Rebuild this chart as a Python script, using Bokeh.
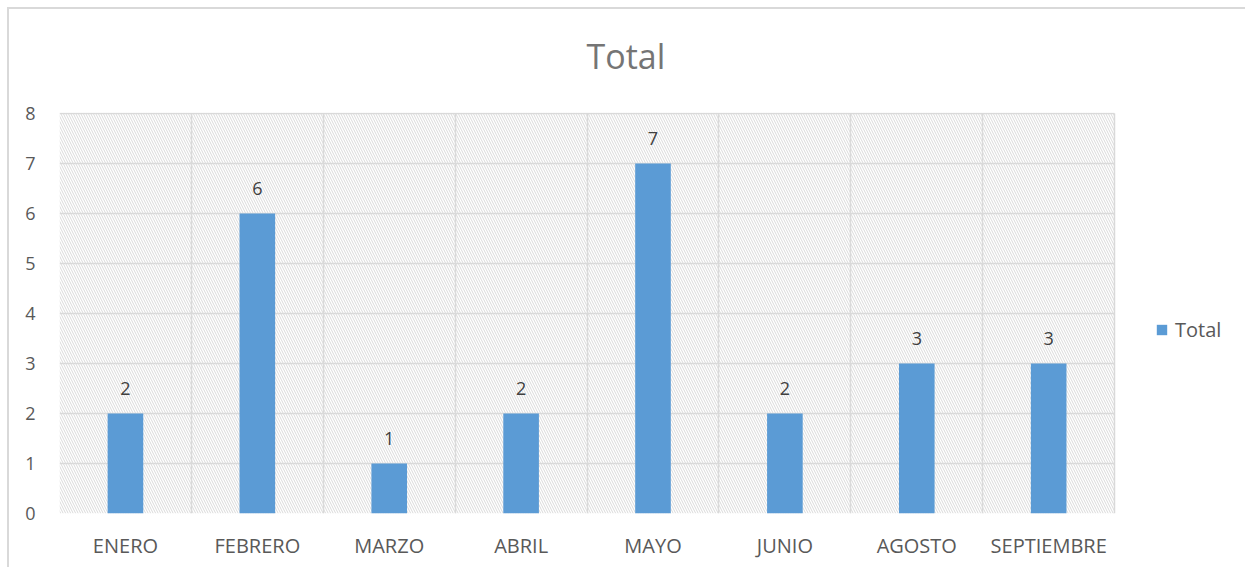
import numpy as np
from bokeh.plotting import figure
from bokeh.models import (Range1d, FixedTicker, ColumnDataSource, LabelSet, Legend,
                          LegendItem, Title)
from bokeh.core.properties import value
from bokeh.embed import file_html
from bokeh.resources import INLINE

months = ["ENERO", "FEBRERO", "MARZO", "ABRIL", "MAYO", "JUNIO", "AGOSTO", "SEPTIEMBRE"]
totals = [2, 6, 1, 2, 7, 2, 3, 3]
y_ticks = [0, 1, 2, 3, 4, 5, 6, 7, 8]

FONT = "Open Sans"
BAR = "#5B9BD5"
GRID = "#d9d9d9"

n = len(months)
xs = np.arange(n) + 0.5
ymax = y_ticks[-1]

# the frame extends one category to the right to host the legend
p = figure(width=1238, height=560, output_backend="svg", toolbar_location=None,
           x_range=Range1d(0, n + 1), y_range=Range1d(0, ymax * 1.0025),
           min_border_left=50, min_border_right=1, min_border_top=103, min_border_bottom=56,
           styles={"border-top": "2px solid #d9d9d9", "border-left": "2px solid #d9d9d9",
                   "margin-left": "7px", "margin-top": "7px"})
p.outline_line_color = None

# hatched plot area
p.quad(left=[0], right=[n], bottom=[0], top=[ymax], fill_alpha=0, line_color=None,
       hatch_pattern="\\", hatch_color="#dadada", hatch_scale=5, hatch_weight=1)

src = ColumnDataSource(dict(x=xs, y=totals, lab=[str(v) for v in totals]))
r = p.vbar(x="x", top="y", width=0.27, bottom=0, source=src, fill_color=BAR, line_color=None)

labels = LabelSet(x="x", y="y", text="lab", source=src, text_align="center",
                  text_baseline="middle", y_offset=25, text_font=value(FONT),
                  text_font_size=value("18px"), text_color="#404040")
p.add_layout(labels)

# axes
p.xaxis.ticker = FixedTicker(ticks=list(xs))
p.xaxis.major_label_overrides = {float(x): m for x, m in zip(xs, months)}
p.xaxis.axis_line_color = None
p.xaxis.major_tick_line_color = None
p.xaxis.minor_tick_line_color = None
p.xaxis.major_label_text_font = FONT
p.xaxis.major_label_text_font_size = "20px"
p.xaxis.major_label_text_color = "#595959"
p.xaxis.major_label_standoff = 12

p.yaxis.ticker = FixedTicker(ticks=y_ticks)
p.yaxis.axis_line_color = None
p.yaxis.major_tick_line_color = None
p.yaxis.minor_tick_line_color = None
p.yaxis.major_label_text_font = FONT
p.yaxis.major_label_text_font_size = "18px"
p.yaxis.major_label_text_color = "#595959"
p.yaxis.major_label_standoff = 18

p.xgrid.ticker = FixedTicker(ticks=list(range(n + 1)))
p.xgrid.grid_line_color = GRID
p.xgrid.grid_line_width = 1.5
p.xgrid.cross_bounds = (0, ymax)
p.ygrid.grid_line_color = GRID
p.ygrid.grid_line_width = 1.5
p.ygrid.cross_bounds = (0, n)

# spacer title (closest to the frame), then the real title above it
p.add_layout(Title(text=" ", text_font_size="1px", standoff=29), "above")
t = Title(text="Total", align="left", offset=527, text_font=FONT, text_font_size="34px",
          text_color="#757575", text_font_style="normal", standoff=4)
p.add_layout(t, "above")

legend = Legend(items=[LegendItem(label="Total", renderers=[r])], location=(1096, 170),
                label_text_font=FONT, label_text_font_size="20px", label_text_color="#595959",
                glyph_width=13, glyph_height=13, label_standoff=7, padding=0, margin=0,
                border_line_color=None, background_fill_alpha=0)
p.add_layout(legend, "center")

open("out.html", "w").write(file_html(p, INLINE))
